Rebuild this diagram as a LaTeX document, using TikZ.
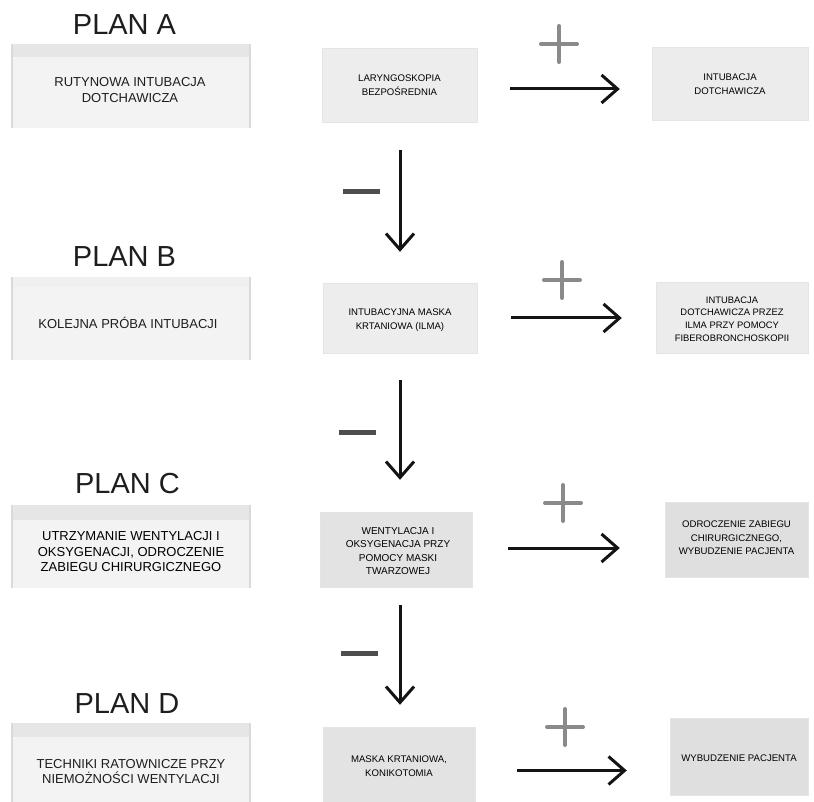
\documentclass[tikz,border=0pt]{standalone}
\usepackage{fontspec}
\setmainfont{Liberation Sans}
\usetikzlibrary{arrows.meta,calc}
\definecolor{lfill}{HTML}{F3F3F3}
\definecolor{lband}{HTML}{E6E6E6}
\definecolor{lside}{HTML}{DADADA}
\definecolor{mfillA}{HTML}{EDEDED}
\definecolor{mfillC}{HTML}{E3E3E3}
\definecolor{rfillA}{HTML}{ECECEC}
\definecolor{rfillC}{HTML}{DFDFDF}
\definecolor{txt}{HTML}{1E1E1E}
\definecolor{plusc}{HTML}{8A8A8A}
\definecolor{minusc}{HTML}{4E4E4E}
\tikzset{
  plan/.style={anchor=base, inner sep=0, text=txt, font=\fontsize{29}{31}\selectfont},
  lbox/.style={fill=lfill, minimum width=238pt, inner sep=0},
  ltext/.style={align=center, text=txt, inner sep=0, font=\fontsize{13}{15.5}\selectfont},
  sbox/.style={inner sep=0, draw=black!10, line width=0.4pt},
  stext/.style={align=center, text=black, inner sep=0, font=\fontsize{9.6}{13.4}\selectfont},
  band/.style={fill=lband},
  side/.style={draw=lside, line width=1.6pt},
  arr/.style={line width=3pt, black!92, -{Straight Barb[length=16pt,width=28pt,line width=3pt]}},
  plussign/.style={draw=plusc, line width=4pt, line cap=round},
  minussign/.style={draw=minusc, line width=5pt},
}
\begin{document}
\begin{tikzpicture}[x=1pt,y=-1pt]
\useasboundingbox[fill=white] (0,0) rectangle (814,802);
\begin{scope}
\clip (0,0) rectangle (814,802);

% ---------- PLAN labels
\node[plan] (pA) at (124.5,35) {PLAN A};
\node[plan] (pB) at (124.5,267) {PLAN B};
\node[plan] (pC) at (127.5,493) {PLAN C};
\node[plan] (pD) at (127,713) {PLAN D};

% ---------- left boxes
\node[lbox, minimum height=84pt] (lA) at (131,86) {};
\fill[band] (lA.north west) rectangle ([yshift=-13pt]lA.north east);
\draw[side] (lA.north west) -- (lA.south west);
\draw[side] (lA.north east) -- (lA.south east);
\node[ltext] (lAt) at (130,90) {RUTYNOWA INTUBACJA\\DOTCHAWICZA};

\node[lbox, minimum height=83pt] (lB) at (131,318.5) {};
\fill[band, fill=lband!60] (lB.north west) rectangle ([yshift=-10pt]lB.north east);
\draw[side] (lB.north west) -- (lB.south west);
\draw[side] (lB.north east) -- (lB.south east);
\node[ltext] (lBt) at (128,323) {KOLEJNA PRÓBA INTUBACJI};

\node[lbox, minimum height=83pt] (lC) at (131,546.5) {};
\fill[band] (lC.north west) rectangle ([yshift=-15pt]lC.north east);
\draw[side] (lC.north west) -- (lC.south west);
\draw[side] (lC.north east) -- (lC.south east);
\node[ltext, text=black] (lCt) at (131,552) {UTRZYMANIE WENTYLACJI I\\OKSYGENACJI, ODROCZENIE\\ZABIEGU CHIRURGICZNEGO};

\node[lbox, minimum height=84pt] (lD) at (131,765) {};
\fill[band] (lD.north west) rectangle ([yshift=-14pt]lD.north east);
\draw[side] (lD.north west) -- (lD.south west);
\draw[side] (lD.north east) -- (lD.south east);
\node[ltext] (lDt) at (131,771.5) {TECHNIKI RATOWNICZE PRZY\\NIEMOŻNOŚCI WENTYLACJI};

% ---------- middle boxes
\node[sbox, fill=mfillA, minimum width=155pt, minimum height=74pt] (mA) at (399.5,85) {};
\node[stext] (mAt) at (399.5,85) {LARYNGOSKOPIA\\BEZPOŚREDNIA};

\node[sbox, fill=mfillA, minimum width=154pt, minimum height=70pt] (mB) at (400,318) {};
\node[stext] (mBt) at (400,320) {INTUBACYJNA MASKA\\KRTANIOWA (ILMA)};

\node[sbox, fill=mfillC, minimum width=152pt, minimum height=75pt] (mC) at (396,549.5) {};
\node[stext, font=\fontsize{10}{13.4}\selectfont] (mCt) at (398,551) {WENTYLACJA I\\OKSYGENACJA PRZY\\POMOCY MASKI\\TWARZOWEJ};

\node[sbox, fill=mfillC, minimum width=152pt, minimum height=76pt] (mD) at (399,765) {};
\node[stext] (mDt) at (399,766) {MASKA KRTANIOWA,\\KONIKOTOMIA};

% ---------- right boxes
\node[sbox, fill=rfillA, minimum width=156pt, minimum height=73pt] (rA) at (730,83.5) {};
\node[stext] (rAt) at (730,84) {INTUBACJA\\DOTCHAWICZA};

\node[sbox, fill=rfillA, minimum width=152pt, minimum height=71pt] (rB) at (732,317.5) {};
\node[stext, font=\fontsize{9.4}{12.8}\selectfont] (rBt) at (732,319) {INTUBACJA\\DOTCHAWICZA PRZEZ\\ILMA PRZY POMOCY\\FIBEROBRONCHOSKOPII};

\node[sbox, fill=rfillC, minimum width=143pt, minimum height=75pt] (rC) at (736.5,539.5) {};
\node[stext] (rCt) at (736.5,538) {ODROCZENIE ZABIEGU\\CHIRURGICZNEGO,\\WYBUDZENIE PACJENTA};

\node[sbox, fill=rfillC, minimum width=138pt, minimum height=77pt] (rD) at (739,756.5) {};
\node[stext] (rDt) at (739,758) {WYBUDZENIE PACJENTA};

% ---------- horizontal arrows (+)
\draw[arr] ($(mA.east)+(33,4)$) -- ($(rA.west |- mA.east)+(-32,4)$);
\draw[arr] ($(mB.east)+(34,0)$) -- ($(rB.west |- mB.east)+(-34,0)$);
\draw[arr] ($(mC.east)+(36,-1.5)$) -- ($(rC.west |- mC.east)+(-45,-1.5)$);
\draw[arr] ($(mD.east)+(42,5.5)$) -- ($(rD.west |- mD.east)+(-43,5.5)$);

% ---------- vertical arrows (-)
\draw[arr] (mA.south) ++(0.5,28) -- ($(mA.south |- mB.north)+(0.5,-31)$);
\draw[arr] (mB.south) ++(0,27) -- ($(mB.south |- mC.north)+(0,-32)$);
\draw[arr] (mC.south) ++(4,18) -- ($(mC.south |- mD.north)+(4,-22)$);

% ---------- plus signs
\coordinate (plA) at (559,44);
\coordinate (plB) at (562,280);
\coordinate (plC) at (563,503);
\coordinate (plD) at (565,727);
\foreach \p in {plA,plB,plC,plD}{
  \draw[plussign] ($(\p)+(-18,0)$) -- ($(\p)+(18,0)$);
  \draw[plussign] ($(\p)+(0,-18)$) -- ($(\p)+(0,18)$);
}

% ---------- minus signs
\coordinate (miA) at (361.5,192);
\coordinate (miB) at (357.5,432);
\coordinate (miC) at (359.5,653);
\foreach \p in {miA,miB,miC}{
  \draw[minussign] ($(\p)+(-18.5,0)$) -- ($(\p)+(18.5,0)$);
}
\end{scope}
\end{tikzpicture}
\end{document}
